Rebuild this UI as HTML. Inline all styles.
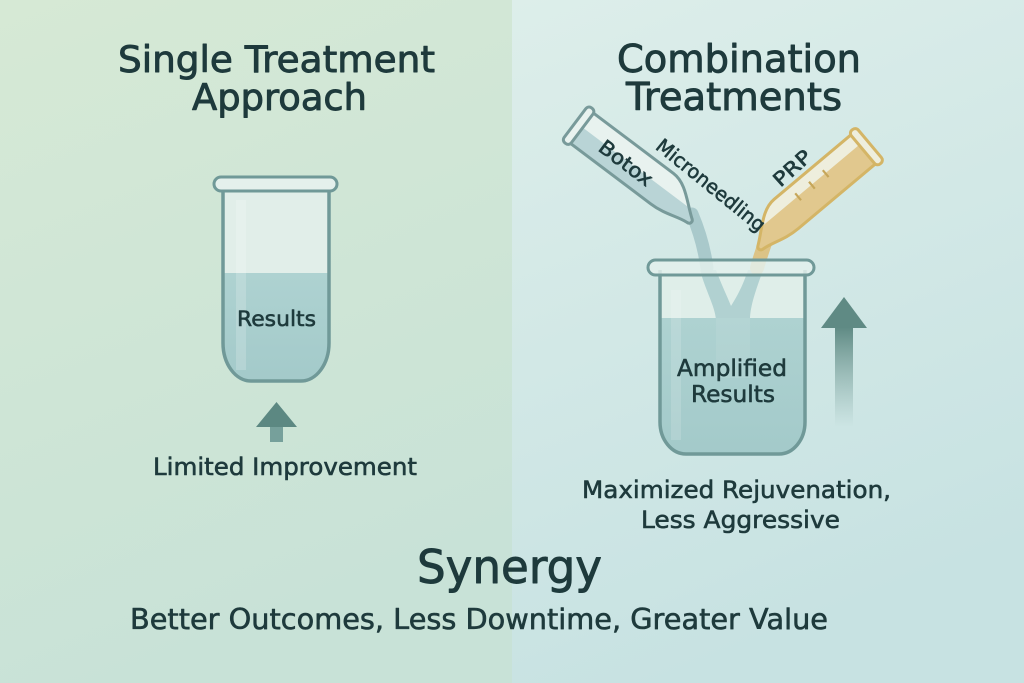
<!DOCTYPE html>
<html>
<head>
<meta charset="utf-8">
<style>
  html,body{margin:0;padding:0;background:#d6e9e0;}
  svg{display:block;}
  text{font-family:"DejaVu Sans","Liberation Sans",sans-serif;fill:#1e3a3c;stroke:#1e3a3c;paint-order:stroke;stroke-linejoin:round;}
  .t1{stroke-width:0.9px;}
  .t2{stroke-width:0.6px;}
  .t3{stroke-width:0.5px;}
</style>
</head>
<body>
<svg width="1024" height="683" viewBox="0 0 1024 683" xmlns="http://www.w3.org/2000/svg">
  <defs>
    <linearGradient id="gl" x1="0" y1="0" x2="0.3" y2="1">
      <stop offset="0" stop-color="#d6e9d5"/>
      <stop offset="1" stop-color="#c8e2d7"/>
    </linearGradient>
    <linearGradient id="gr" x1="0" y1="0" x2="0.3" y2="1">
      <stop offset="0" stop-color="#ddeeea"/>
      <stop offset="1" stop-color="#c7e2e2"/>
    </linearGradient>
    <linearGradient id="stem" x1="0" y1="0" x2="0" y2="1">
      <stop offset="0" stop-color="#5f8a84" stop-opacity="1"/>
      <stop offset="1" stop-color="#7fa6a0" stop-opacity="0"/>
    </linearGradient>
    <linearGradient id="liq" x1="0" y1="0" x2="0" y2="1">
      <stop offset="0" stop-color="#aed2d1"/>
      <stop offset="1" stop-color="#a2c9c9"/>
    </linearGradient>
    <clipPath id="tubeclip">
      <path d="M0,-19 H104 C120,-19 132,-4 146,6 C149,8 148,12 144,12 C132,13 122,19 104,19 H0 Z"/>
    </clipPath>
    <clipPath id="lclip">
      <path d="M223,186 V343 A28,38 0 0 0 251,381 H301 A28,38 0 0 0 329,343 V186 Z"/>
    </clipPath>
    <clipPath id="rclip">
      <path d="M660,270 V422 A26,32 0 0 0 686,454 H779 A26,32 0 0 0 805,422 V270 Z"/>
    </clipPath>
  </defs>

  <!-- backgrounds -->
  <rect x="0" y="0" width="512" height="683" fill="url(#gl)"/>
  <rect x="512" y="0" width="512" height="683" fill="url(#gr)"/>

  <!-- ===== LEFT ===== -->
  <text class="t1" x="276.5" y="72" font-size="36.5" text-anchor="middle" textLength="317" lengthAdjust="spacingAndGlyphs">Single Treatment</text>
  <text class="t1" x="279.5" y="110" font-size="36.5" text-anchor="middle" textLength="175" lengthAdjust="spacingAndGlyphs">Approach</text>

  <!-- left tube -->
  <g clip-path="url(#lclip)">
    <rect x="220" y="180" width="112" height="210" fill="#e1eee9"/>
    <rect x="220" y="273" width="112" height="120" fill="url(#liq)"/>
    <rect x="236" y="200" width="10" height="170" fill="#ffffff" opacity="0.18"/>
  </g>
  <path d="M223,186 V343 A28,38 0 0 0 251,381 H301 A28,38 0 0 0 329,343 V186" fill="none" stroke="#709998" stroke-width="3.5"/>
  <rect x="214" y="177" width="123" height="14" rx="7" fill="#e4f0ec" stroke="#709998" stroke-width="3"/>
  <text class="t2" x="276.5" y="326" font-size="21.5" text-anchor="middle" textLength="79" lengthAdjust="spacingAndGlyphs">Results</text>

  <!-- left arrow -->
  <rect x="270" y="425" width="13" height="17" fill="#76a09b"/>
  <polygon points="256,427 297,427 276.5,402" fill="#5c8882"/>

  <text class="t2" x="285" y="475" font-size="24" text-anchor="middle" textLength="264" lengthAdjust="spacingAndGlyphs">Limited Improvement</text>

  <!-- ===== RIGHT ===== -->
  <text class="t1" x="739" y="72" font-size="38" text-anchor="middle" textLength="244" lengthAdjust="spacingAndGlyphs">Combination</text>
  <text class="t1" x="734" y="110" font-size="38" text-anchor="middle" textLength="216" lengthAdjust="spacingAndGlyphs">Treatments</text>

  <!-- beaker -->
  <g clip-path="url(#rclip)">
    <rect x="655" y="265" width="155" height="200" fill="#dfeee9"/>
    <path d="M700,270 C706,292 715,306 716,320 L750,320 C750,306 756,290 763,270 L748,270 C742,288 736,298 731,306 C727,296 722,286 716,270 Z" fill="#b1d1d1"/>
    <rect x="655" y="318" width="155" height="150" fill="url(#liq)"/>
    <rect x="716" y="318" width="34" height="60" fill="#ffffff" opacity="0.08"/>
    <rect x="671" y="290" width="10" height="150" fill="#ffffff" opacity="0.15"/>
  </g>
  <path d="M660,270 V422 A26,32 0 0 0 686,454 H779 A26,32 0 0 0 805,422 V270" fill="none" stroke="#709998" stroke-width="3.5"/>

  <!-- streams outside beaker -->
  <path d="M692,214 C698,228 704,246 707,268" fill="none" stroke="#a9c9cb" stroke-width="13" stroke-linecap="round"/>
  <path d="M772,221 C768,236 762,250 757,268" fill="none" stroke="#dcc386" stroke-width="14" stroke-linecap="round"/>

  <rect x="648" y="260" width="166" height="15" rx="7.5" fill="#e3f0ec" fill-opacity="0.85" stroke="#709998" stroke-width="3"/>

  <text class="t2" x="732" y="376" font-size="23.5" text-anchor="middle" textLength="110" lengthAdjust="spacingAndGlyphs">Amplified</text>
  <text class="t2" x="733" y="402" font-size="23.5" text-anchor="middle" textLength="84" lengthAdjust="spacingAndGlyphs">Results</text>

  <!-- Botox tube -->
  <g transform="translate(579,126) rotate(37)">
    <path d="M0,-19 H104 C120,-19 132,-4 146,6 C149,8 148,12 144,12 C132,13 122,19 104,19 H0 Z" fill="#e8f2ef"/>
    <rect x="0" y="-1" width="160" height="30" fill="#b9d4d6" clip-path="url(#tubeclip)"/>
    <path d="M0,-19 H104 C120,-19 132,-4 146,6 C149,8 148,12 144,12 C132,13 122,19 104,19 H0 Z" fill="none" stroke="#789a9a" stroke-width="3"/>
    <rect x="-5" y="-22" width="9" height="44" rx="4" fill="#e8f2ef" stroke="#789a9a" stroke-width="3"/>
  </g>

  <!-- PRP tube -->
  <g transform="translate(866,147) rotate(140) scale(1,-1)">
    <path d="M0,-19 H104 C120,-19 132,-4 146,6 C149,8 148,12 144,12 C132,13 122,19 104,19 H0 Z" fill="#eeeedd"/>
    <rect x="0" y="-6" width="160" height="30" fill="#e1c88e" clip-path="url(#tubeclip)"/>
    <path d="M0,-19 H104 C120,-19 132,-4 146,6 C149,8 148,12 144,12 C132,13 122,19 104,19 H0 Z" fill="none" stroke="#d4b566" stroke-width="3"/>
    <rect x="-5" y="-22" width="9" height="44" rx="4" fill="#eeeedd" stroke="#d4b566" stroke-width="3"/>
    <line x1="48" y1="-10" x2="48" y2="-1" stroke="#c6a659" stroke-width="2.2"/>
    <line x1="66" y1="-10" x2="66" y2="-1" stroke="#c6a659" stroke-width="2.2"/>
    <line x1="84" y1="-10" x2="84" y2="-1" stroke="#c6a659" stroke-width="2.2"/>
  </g>

  <!-- rotated labels -->
  <text class="t2" x="626" y="170" font-size="20" text-anchor="middle" transform="rotate(37 626 163)" textLength="62" lengthAdjust="spacingAndGlyphs">Botox</text>
  <text class="t2" x="711" y="192" font-size="19.5" text-anchor="middle" transform="rotate(39 711 185)" textLength="134" lengthAdjust="spacingAndGlyphs">Microneedling</text>
  <text class="t2" x="792" y="175" font-size="19.5" text-anchor="middle" transform="rotate(-42 792 168)" textLength="44" lengthAdjust="spacingAndGlyphs">PRP</text>

  <!-- right arrow -->
  <rect x="835" y="327" width="18" height="100" fill="url(#stem)"/>
  <polygon points="821,328 867,328 844,297" fill="#5f8a84"/>

  <text class="t2" x="736.5" y="498" font-size="24" text-anchor="middle" textLength="309" lengthAdjust="spacingAndGlyphs">Maximized Rejuvenation,</text>
  <text class="t2" x="740.5" y="528" font-size="24" text-anchor="middle" textLength="199" lengthAdjust="spacingAndGlyphs">Less Aggressive</text>

  <!-- bottom -->
  <text class="t1" x="509.5" y="583" font-size="46" text-anchor="middle" textLength="185" lengthAdjust="spacingAndGlyphs">Synergy</text>
  <text class="t2" x="479" y="629" font-size="28.5" text-anchor="middle" textLength="698" lengthAdjust="spacingAndGlyphs">Better Outcomes, Less Downtime, Greater Value</text>
</svg>
</body>
</html>
